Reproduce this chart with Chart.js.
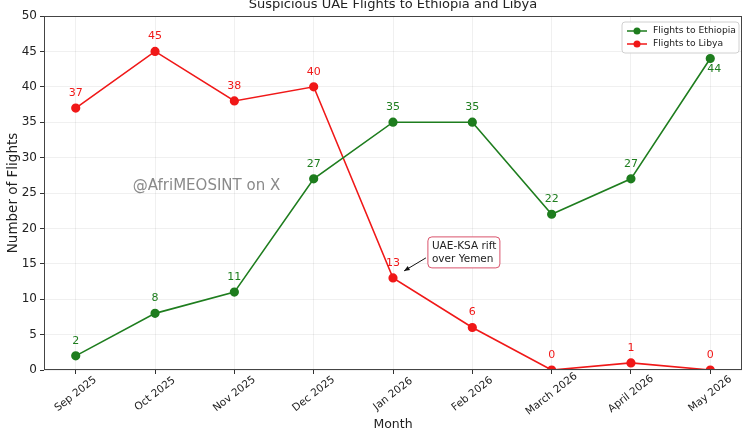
<!DOCTYPE html>
<html>
<head>
<meta charset="utf-8">
<script src="https://cdn.jsdelivr.net/npm/chart.js@4"></script>
<style>
  body { margin: 0; background: #fff; }
  #wrap { width: 750px; height: 430px; }
</style>
</head>
<body>
<div id="wrap"><canvas id="chart" width="750" height="430"></canvas></div>
<script>
const months = ["Sep 2025", "Oct 2025", "Nov 2025", "Dec 2025", "Jan 2026", "Feb 2026", "March 2026", "April 2026", "May 2026"];
const ethiopia = [2, 8, 11, 27, 35, 35, 22, 27, 44];
const libya = [37, 45, 38, 40, 13, 6, 0, 1, 0];
const yTicks = [0, 5, 10, 15, 20, 25, 30, 35, 40, 45, 50];

const GREEN = "#1e7d1e";
const RED = "#f01818";
const FONT = "'DejaVu Sans', sans-serif";

// draws title, axis text, frame, value labels, watermark, annotation and legend
const extras = {
    id: "extras",
    afterDatasetsDraw(chart) {
        const c = chart.ctx;
        const a = chart.chartArea;
        const xs = chart.scales.x, ys = chart.scales.y;
        const lx = a.right - 120, ly = a.top + 6;
        c.save();

        // frame
        c.strokeStyle = "#444";
        c.lineWidth = 1;
        c.strokeRect(a.left + 0.5, a.top + 0.5, a.right - a.left - 1, a.bottom - a.top - 1);

        // title (cut by top edge like the reference)
        c.fillStyle = "#222";
        c.font = "13px " + FONT;
        c.textAlign = "center";
        c.textBaseline = "middle";
        c.fillText("Suspicious UAE Flights to Ethiopia and Libya", (a.left + a.right) / 2, 5);

        // x tick labels, rotated and centred on the tick
        c.font = "10.5px " + FONT;
        months.forEach((m, i) => {
            c.save();
            c.translate(xs.getPixelForValue(i), a.bottom + 24);
            c.rotate(-38 * Math.PI / 180);
            c.fillText(m, 0, 0);
            c.restore();
        });

        // axis titles
        c.font = "12.5px " + FONT;
        c.fillText("Month", (a.left + a.right) / 2, 425);
        c.save();
        c.translate(13, (a.top + a.bottom) / 2);
        c.rotate(-Math.PI / 2);
        c.font = "13.5px " + FONT;
        c.fillText("Number of Flights", 0, 0);
        c.restore();

        // value labels (below the point when the legend is in the way)
        c.font = "11px " + FONT;
        chart.data.datasets.forEach((ds) => {
            c.fillStyle = ds.borderColor;
            ds.data.forEach((p) => {
                const px = xs.getPixelForValue(p.x);
                const py = ys.getPixelForValue(p.y);
                if (px > lx && py - a.top < 60) {
                    c.fillText(String(p.y), px + 4, py + 11);
                } else {
                    c.fillText(String(p.y), px, py - 15);
                }
            });
        });

        // watermark
        c.fillStyle = "#8a8a8a";
        c.font = "15px " + FONT;
        c.textAlign = "left";
        c.fillText("@AfriMEOSINT on X", xs.getPixelForValue(0.72), ys.getPixelForValue(26));

        // annotation
        const bx = xs.getPixelForValue(4.44), by = ys.getPixelForValue(18.8);
        const bw = 72, bh = 31;
        c.beginPath();
        c.roundRect(bx, by, bw, bh, 4);
        c.fillStyle = "#fff";
        c.fill();
        c.strokeStyle = "#d9536b";
        c.lineWidth = 1;
        c.stroke();
        c.fillStyle = "#222";
        c.font = "10.5px " + FONT;
        c.textAlign = "left";
        c.fillText("UAE-KSA rift", bx + 4, by + 9);
        c.fillText("over Yemen", bx + 4, by + 22);
        const ax0 = bx - 2, ay0 = by + 21;
        const ax1 = xs.getPixelForValue(4.14), ay1 = ys.getPixelForValue(14.0);
        c.strokeStyle = "#111";
        c.beginPath();
        c.moveTo(ax0, ay0);
        c.lineTo(ax1, ay1);
        c.stroke();
        const ang = Math.atan2(ay1 - ay0, ax1 - ax0);
        c.fillStyle = "#111";
        c.beginPath();
        c.moveTo(ax1, ay1);
        c.lineTo(ax1 - 6 * Math.cos(ang - 0.4), ay1 - 6 * Math.sin(ang - 0.4));
        c.lineTo(ax1 - 6 * Math.cos(ang + 0.4), ay1 - 6 * Math.sin(ang + 0.4));
        c.closePath();
        c.fill();

        // legend
        c.beginPath();
        c.roundRect(lx, ly, 117, 31, 3);
        c.fillStyle = "rgba(255,255,255,0.9)";
        c.fill();
        c.strokeStyle = "#d0d0d0";
        c.stroke();
        c.font = "9.2px " + FONT;
        chart.data.datasets.forEach((ds, i) => {
            const yy = ly + 9 + i * 13;
            c.strokeStyle = ds.borderColor;
            c.lineWidth = 1.5;
            c.beginPath();
            c.moveTo(lx + 5, yy);
            c.lineTo(lx + 25, yy);
            c.stroke();
            c.fillStyle = ds.borderColor;
            c.beginPath();
            c.arc(lx + 15, yy, 3.5, 0, Math.PI * 2);
            c.fill();
            c.fillStyle = "#222";
            c.fillText(ds.label, lx + 31, yy);
        });
        c.restore();
    }
};

const toPoints = (arr) => arr.map((v, i) => ({ x: i, y: v }));

new Chart(document.getElementById("chart").getContext("2d"), {
    type: "line",
    data: {
        datasets: [
            {
                label: "Flights to Ethiopia",
                data: toPoints(ethiopia),
                borderColor: GREEN,
                backgroundColor: GREEN,
                borderWidth: 1.6,
                pointRadius: 3.8,
                pointHoverRadius: 3.8,
            },
            {
                label: "Flights to Libya",
                data: toPoints(libya),
                borderColor: RED,
                backgroundColor: RED,
                borderWidth: 1.6,
                pointRadius: 3.8,
                pointHoverRadius: 3.8,
            },
        ],
    },
    options: {
        responsive: false,
        animation: false,
        layout: { padding: { top: 16, right: 8, left: 0, bottom: 0 } },
        plugins: { legend: { display: false }, title: { display: false }, tooltip: { enabled: false } },
        scales: {
            x: {
                type: "linear",
                min: -0.4,
                max: 8.4,
                afterBuildTicks: (s) => { s.ticks = months.map((_, i) => ({ value: i })); },
                afterFit: (s) => { s.height = 60; },
                grid: { color: "rgba(0,0,0,0.06)", tickColor: "#333", tickLength: 4 },
                border: { display: false },
                ticks: { display: false },
            },
            y: {
                min: 0,
                max: 50,
                afterBuildTicks: (s) => { s.ticks = yTicks.map((v) => ({ value: v })); },
                afterFit: (s) => { s.width = 44; },
                grid: { color: "rgba(0,0,0,0.06)", tickColor: "#333", tickLength: 4 },
                border: { display: false },
                ticks: { color: "#222", font: { family: FONT, size: 12 }, padding: 3 },
            },
        },
    },
    plugins: [extras],
});
</script>
</body>
</html>
